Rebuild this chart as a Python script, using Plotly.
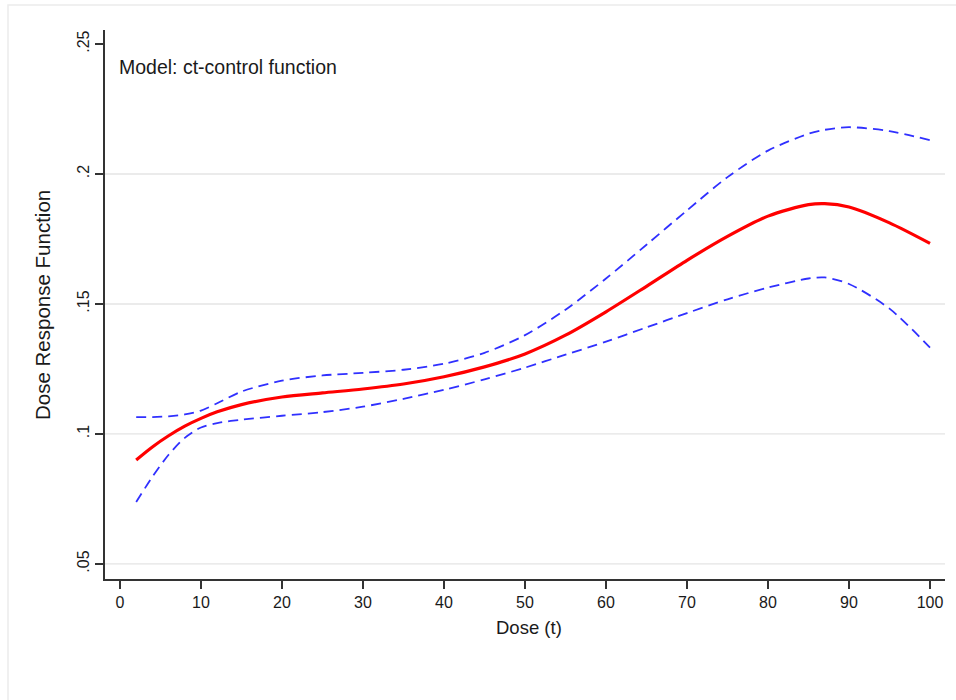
import plotly.graph_objects as go

dose = [2, 4, 6, 8, 10, 12, 15, 20, 25, 30, 35, 40, 45, 50, 55, 60, 65, 70, 75, 80, 85, 87, 90, 95, 100]
drf = [0.0900, 0.0950, 0.0993, 0.1030, 0.1060, 0.1085, 0.1113, 0.1142, 0.1158, 0.1173, 0.1192, 0.1220,
       0.1258, 0.1308, 0.1380, 0.1470, 0.1568, 0.1668, 0.1760, 0.1838, 0.1882, 0.1886, 0.1873, 0.1812, 0.1733]
upper = [0.1065, 0.1065, 0.1068, 0.1075, 0.1090, 0.1118, 0.1163, 0.1205, 0.1225, 0.1235, 0.1247, 0.1270,
         0.1312, 0.1380, 0.1478, 0.1598, 0.1728, 0.1860, 0.1988, 0.2090, 0.2155, 0.2170, 0.2180, 0.2165, 0.2130]
lower = [0.0738, 0.0835, 0.0920, 0.0985, 0.1025, 0.1042, 0.1055, 0.1070, 0.1084, 0.1105, 0.1135, 0.1170,
         0.1210, 0.1255, 0.1305, 0.1355, 0.1410, 0.1465, 0.1518, 0.1563, 0.1598, 0.1602, 0.1577, 0.1482, 0.1332]

x_ticks = [0, 10, 20, 30, 40, 50, 60, 70, 80, 90, 100]
y_ticks = [0.05, 0.10, 0.15, 0.20, 0.25]
y_tick_text = [".05", ".1", ".15", ".2", ".25"]
grid_vals = [0.05, 0.10, 0.15, 0.20]

FONT = "Liberation Sans, Arial, sans-serif"
BLUE = "#3030ff"

fig = go.Figure()
for yv in [upper, lower]:
    fig.add_trace(go.Scatter(x=dose, y=yv, mode="lines",
                             line=dict(color=BLUE, width=1.8, dash="10px,6px", shape="spline", smoothing=0.8),
                             hoverinfo="skip", showlegend=False))
fig.add_trace(go.Scatter(x=dose, y=drf, mode="lines",
                         line=dict(color="#ff0000", width=3.2, shape="spline", smoothing=0.8),
                         showlegend=False))

shapes = []
for g in grid_vals:
    shapes.append(dict(type="line", xref="paper", yref="y", x0=0, x1=1, y0=g, y1=g,
                       line=dict(color="#e4e4e4", width=1.3), layer="below"))
# outer light frame
shapes.append(dict(type="rect", xref="paper", yref="paper",
                   x0=(8 - 105) / 840, x1=(1000 - 105) / 840,
                   y0=(579 - 800) / 549, y1=(579 - 5) / 549,
                   line=dict(color="#ececec", width=1.5), fillcolor="rgba(0,0,0,0)", layer="below"))

fig.update_layout(
    width=956, height=700,
    margin=dict(l=105, r=11, t=30, b=121),
    paper_bgcolor="white", plot_bgcolor="white",
    font=dict(family=FONT, size=16, color="#1a1a1a"),
    shapes=shapes,
    xaxis=dict(range=[-1.85, 101.85], tickvals=x_ticks, ticks="outside", ticklen=8, tickwidth=1.5,
               tickcolor="#333", showline=True, linecolor="#333", linewidth=1.6, showgrid=False,
               zeroline=False, tickfont=dict(size=16)),
    yaxis=dict(range=[0.0442, 0.2554], tickvals=y_ticks, ticktext=y_tick_text, ticks="outside", ticklen=8,
               tickwidth=1.5, tickcolor="#333", showline=True, linecolor="#333", linewidth=1.6,
               showgrid=False, zeroline=False, tickangle=-90, tickfont=dict(size=16)),
    annotations=[
        dict(text="Dose (t)", xref="paper", yref="paper", x=(529 - 105) / 840, y=(579 - 627) / 549,
             showarrow=False, font=dict(size=18.5), xanchor="center", yanchor="middle"),
        dict(text="Dose Response Function", xref="paper", yref="paper", x=(42 - 105) / 840, y=(579 - 305) / 549,
             showarrow=False, font=dict(size=20.5), textangle=-90, xanchor="center", yanchor="middle"),
        dict(text="Model: ct-control function", xref="paper", yref="paper", x=(117 - 105) / 840,
             y=(579 - 67) / 549, showarrow=False, font=dict(size=19.5), xanchor="left", yanchor="middle"),
    ],
)

fig.write_html("out.html")
